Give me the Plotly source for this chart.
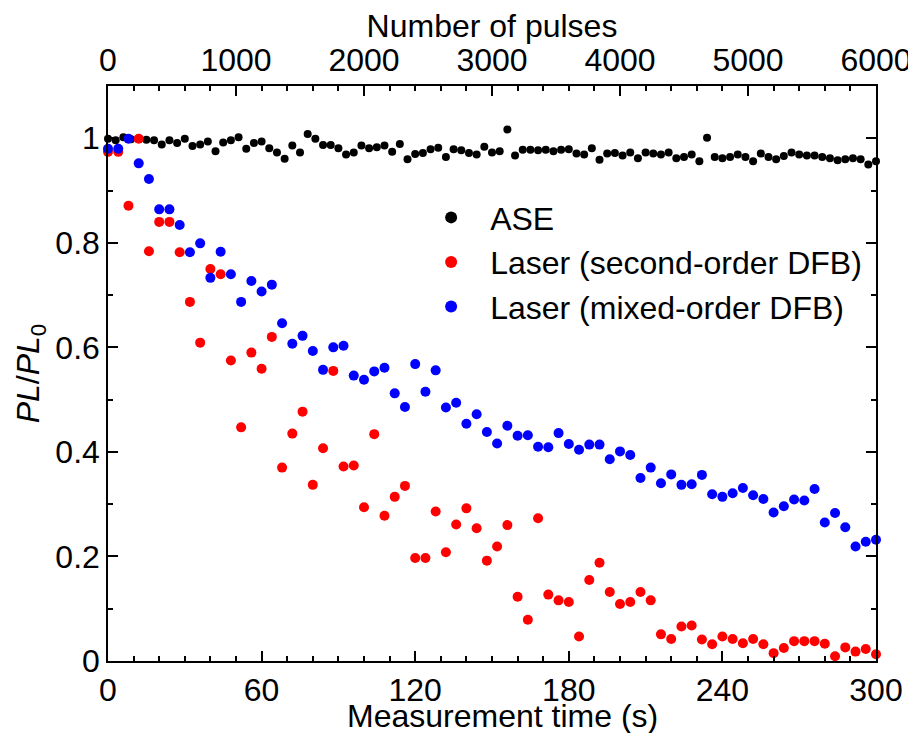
import plotly.graph_objects as go

# ---- data ----
ase_time = list(range(0, 301, 3))
ase_pl = [
    0.999, 0.996, 1.002, 0.998, 0.999, 0.997, 0.996, 0.988, 0.996, 0.991,
    0.999, 0.985, 0.988, 0.994, 0.975, 0.992, 0.996, 1.002, 0.980, 0.991,
    0.994, 0.981, 0.973, 0.961, 0.986, 0.973, 1.008, 0.999, 0.987, 0.987,
    0.981, 0.969, 0.973, 0.986, 0.981, 0.983, 0.986, 0.974, 0.989, 0.960,
    0.970, 0.972, 0.979, 0.982, 0.964, 0.979, 0.977, 0.972, 0.969, 0.984,
    0.973, 0.975, 1.017, 0.967, 0.978, 0.978, 0.977, 0.978, 0.975, 0.978,
    0.979, 0.971, 0.969, 0.981, 0.959, 0.971, 0.972, 0.967, 0.973, 0.962,
    0.973, 0.971, 0.969, 0.973, 0.962, 0.964, 0.969, 0.956, 1.001, 0.964,
    0.962, 0.964, 0.969, 0.964, 0.956, 0.971, 0.964, 0.960, 0.966, 0.973,
    0.969, 0.967, 0.967, 0.964, 0.962, 0.958, 0.960, 0.962, 0.960, 0.950,
    0.956,
]

laser_time = list(range(0, 301, 4))
second_order_pl = [
    0.974, 0.974, 0.871, 0.999, 0.784, 0.840, 0.840, 0.782, 0.687, 0.609,
    0.750, 0.740, 0.575, 0.447, 0.590, 0.559, 0.620, 0.370, 0.435, 0.477,
    0.337, 0.407, 0.555, 0.372, 0.374, 0.294, 0.434, 0.278, 0.314, 0.335,
    0.197, 0.197, 0.286, 0.208, 0.261, 0.292, 0.254, 0.192, 0.219, 0.260,
    0.123, 0.079, 0.273, 0.127, 0.116, 0.113, 0.047, 0.155, 0.188, 0.132,
    0.109, 0.113, 0.132, 0.116, 0.051, 0.042, 0.066, 0.068, 0.041, 0.032,
    0.047, 0.042, 0.034, 0.042, 0.032, 0.015, 0.025, 0.038, 0.038, 0.038,
    0.033, 0.009, 0.026, 0.018, 0.023, 0.013,
]
mixed_order_pl = [
    0.980, 0.980, 0.999, 0.952, 0.922, 0.864, 0.864, 0.834, 0.782, 0.799,
    0.733, 0.783, 0.740, 0.687, 0.727, 0.707, 0.720, 0.646, 0.607, 0.622,
    0.593, 0.557, 0.600, 0.603, 0.546, 0.538, 0.554, 0.561, 0.512, 0.486,
    0.568, 0.515, 0.556, 0.485, 0.494, 0.454, 0.472, 0.438, 0.416, 0.450,
    0.431, 0.432, 0.410, 0.409, 0.436, 0.415, 0.404, 0.414, 0.414, 0.386,
    0.401, 0.394, 0.350, 0.370, 0.340, 0.357, 0.337, 0.338, 0.356, 0.319,
    0.314, 0.321, 0.331, 0.317, 0.310, 0.284, 0.296, 0.309, 0.307, 0.329,
    0.265, 0.283, 0.256, 0.219, 0.228, 0.232,
]

x_ticks = [0, 60, 120, 180, 240, 300]
pulse_ticks = [0, 1000, 2000, 3000, 4000, 5000, 6000]
y_ticks = [0, 0.2, 0.4, 0.6, 0.8, 1.0]
y_tick_text = ["0", "0.2", "0.4", "0.6", "0.8", "1"]

FONT = "Liberation Sans, Arial, sans-serif"
FS = 32

fig = go.Figure()
fig.add_trace(go.Scatter(x=ase_time, y=ase_pl, mode="markers", name="ASE",
                         marker=dict(color="black", size=8), cliponaxis=False))
fig.add_trace(go.Scatter(x=laser_time, y=second_order_pl, mode="markers",
                         name="Laser (second-order DFB)",
                         marker=dict(color="#ff0000", size=10), cliponaxis=False))
fig.add_trace(go.Scatter(x=laser_time, y=mixed_order_pl, mode="markers",
                         name="Laser (mixed-order DFB)",
                         marker=dict(color="#0000ff", size=10), cliponaxis=False))
# invisible trace for the top axis
fig.add_trace(go.Scatter(x=[pulse_ticks[0], pulse_ticks[-1]], y=[None, None],
                         xaxis="x2", showlegend=False, hoverinfo="skip"))

tick_common = dict(ticks="inside", ticklen=10, tickwidth=1.5, tickcolor="black",
                   showline=True, linecolor="black", linewidth=1.5,
                   showgrid=False, zeroline=False, automargin=False,
                   ticklabeloverflow="allow", tickfont=dict(size=FS))

fig.update_layout(
    width=908, height=725,
    margin=dict(l=100, r=40, t=78, b=72),
    paper_bgcolor="white", plot_bgcolor="white",
    font=dict(family=FONT, size=FS, color="black"),
    showlegend=True,
    legend=dict(x=0.396, y=0.819, xanchor="left", yanchor="top",
                bgcolor="rgba(0,0,0,0)", font=dict(size=FS),
                itemsizing="constant", itemwidth=68, tracegroupgap=0),
    xaxis=dict(
        range=[0, 300], tickvals=x_ticks, mirror=False,
        minor=dict(dtick=10, ticks="inside", ticklen=5, tickwidth=1.5, tickcolor="black"),
        **tick_common,
    ),
    xaxis2=dict(
        range=[0, 6000], overlaying="x", side="top", tickvals=pulse_ticks,
        minor=dict(dtick=200, ticks="inside", ticklen=5, tickwidth=1.5, tickcolor="black"),
        title=dict(text="Number of pulses", standoff=2, font=dict(size=FS)),
        **tick_common,
    ),
    yaxis=dict(
        range=[0, 1.1], tickvals=y_ticks, ticktext=y_tick_text, mirror="ticks",
        minor=dict(dtick=0.1, ticks="inside", ticklen=5, tickwidth=1.5, tickcolor="black"),
        title=dict(text="<i>PL</i>/<i>PL</i><sub>0</sub>", standoff=6, font=dict(size=FS)),
        **tick_common,
    ),
    annotations=[dict(
        text="Measurement time (s)", xref="paper", yref="paper",
        x=0.514, y=0, xanchor="center", yanchor="middle", yshift=-55,
        showarrow=False, font=dict(size=FS),
    )],
)

fig.write_html("out.html")
